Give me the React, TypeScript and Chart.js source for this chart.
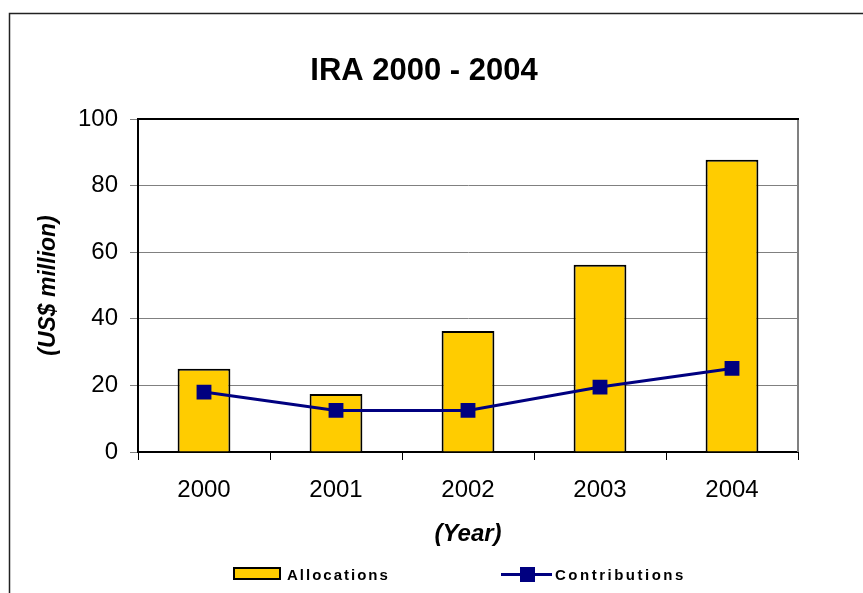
import React, { useEffect, useRef } from "react";
import { Chart, registerables } from "chart.js";

Chart.register(...registerables);

const years = ["2000", "2001", "2002", "2003", "2004"];
const allocations = [25, 17.4, 36.3, 56.2, 87.8];
const contributions = [18, 12.5, 12.5, 19.5, 25.1];
const yTicks = [0, 20, 40, 60, 80, 100];
const chartTitle = "IRA 2000 - 2004";
const yTitle = "(US$ million)";
const xTitle = "(Year)";
const seriesNames = ["Allocations", "Contributions"];

const FONT = '"Liberation Sans", Arial, sans-serif';
const BAR_COLOR = "#FFCC00";
const LINE_COLOR = "#000080";

const decorPlugin = {
  id: "decor",
  beforeDraw(chart: any) {
    const ctx = chart.ctx;
    ctx.save();
    ctx.fillStyle = "#fff";
    ctx.fillRect(0, 0, chart.width, chart.height);
    ctx.strokeStyle = "#222";
    ctx.lineWidth = 1.5;
    ctx.strokeRect(9.5, 13.5, 900, 600);
    ctx.restore();
  },
  afterDraw(chart: any) {
    const ctx = chart.ctx;
    const a = chart.chartArea;
    ctx.save();
    // plot frame: top black, right gray
    ctx.lineWidth = 2;
    ctx.strokeStyle = "#808080";
    ctx.beginPath();
    ctx.moveTo(a.right, a.top);
    ctx.lineTo(a.right, a.bottom);
    ctx.stroke();
    ctx.strokeStyle = "#000";
    ctx.beginPath();
    ctx.moveTo(a.left, a.top);
    ctx.lineTo(a.right + 1, a.top);
    ctx.stroke();

    // title
    ctx.fillStyle = "#000";
    ctx.font = `bold 31px ${FONT}`;
    ctx.textAlign = "center";
    ctx.textBaseline = "alphabetic";
    ctx.fillText(chartTitle, 424, 80);

    // legend
    ctx.textAlign = "left";
    ctx.font = `bold 15px ${FONT}`;
    ctx.fillStyle = BAR_COLOR;
    ctx.fillRect(234, 568, 46, 11);
    ctx.strokeStyle = "#000";
    ctx.lineWidth = 2;
    ctx.strokeRect(234, 568, 46, 11);
    ctx.fillStyle = "#000";
    (ctx as any).letterSpacing = "2px";
    ctx.fillText(seriesNames[0], 287, 579.5);

    ctx.strokeStyle = LINE_COLOR;
    ctx.lineWidth = 3;
    ctx.beginPath();
    ctx.moveTo(501, 574.5);
    ctx.lineTo(552, 574.5);
    ctx.stroke();
    ctx.fillStyle = LINE_COLOR;
    ctx.fillRect(520, 567, 15, 15);
    ctx.fillStyle = "#000";
    (ctx as any).letterSpacing = "2.5px";
    ctx.fillText(seriesNames[1], 555, 579.5);
    (ctx as any).letterSpacing = "0px";
    ctx.restore();
  },
};

export default function App() {
  const ref = useRef<HTMLCanvasElement | null>(null);

  useEffect(() => {
    if (!ref.current) return;
    const chart = new Chart(ref.current, {
      type: "bar",
      data: {
        labels: years,
        datasets: [
          {
            type: "bar",
            label: seriesNames[0],
            data: allocations,
            backgroundColor: BAR_COLOR,
            borderColor: "#000",
            borderWidth: 2,
            categoryPercentage: 1,
            barPercentage: 0.4,
            order: 1,
          } as any,
          {
            type: "line",
            label: seriesNames[1],
            data: contributions,
            borderColor: LINE_COLOR,
            borderWidth: 3,
            backgroundColor: LINE_COLOR,
            pointStyle: "rect",
            pointRadius: 10.5,
            pointBackgroundColor: LINE_COLOR,
            pointBorderColor: LINE_COLOR,
            pointBorderWidth: 0,
            tension: 0,
            order: 0,
          } as any,
        ],
      },
      options: {
        responsive: false,
        animation: false,
        devicePixelRatio: 1,
        layout: { padding: { top: 119, right: 65, bottom: 40, left: 0 } },
        plugins: {
          legend: { display: false },
          title: { display: false },
          tooltip: { enabled: false },
        },
        scales: {
          x: {
            type: "category",
            offset: true,
            grid: {
              offset: true,
              drawOnChartArea: false,
              tickLength: 8,
              color: "#000",
              lineWidth: 1,
            },
            border: { color: "#000", width: 2 },
            ticks: {
              color: "#000",
              font: { family: FONT, size: 24 },
              padding: 16,
            },
            title: {
              display: true,
              text: xTitle,
              color: "#000",
              font: { family: FONT, size: 24, weight: "bold", style: "italic" },
              padding: { top: 0, bottom: 4 },
            },
            afterFit(scale: any) {
              scale.height = 101;
            },
          },
          y: {
            type: "linear",
            min: 0,
            max: 100,
            afterBuildTicks(scale: any) {
              scale.ticks = yTicks.map((v) => ({ value: v }));
            },
            grid: {
              color: "#808080",
              lineWidth: 1,
              tickLength: 8,
            },
            border: { color: "#000", width: 2 },
            ticks: {
              color: "#000",
              font: { family: FONT, size: 24 },
              padding: 12,
            },
            title: {
              display: true,
              text: yTitle,
              color: "#000",
              font: { family: FONT, size: 23, weight: "bold", style: "italic" },
              padding: { top: 35, bottom: 0 },
            },
            afterFit(scale: any) {
              scale.width = 138;
            },
          },
        },
      } as any,
      plugins: [decorPlugin],
    });
    return () => chart.destroy();
  }, []);

  return (
    <div style={{ position: "fixed", left: 0, top: 0, width: 863, height: 593 }}>
      <canvas ref={ref} width={863} height={593} style={{ display: "block" }} />
    </div>
  );
}
